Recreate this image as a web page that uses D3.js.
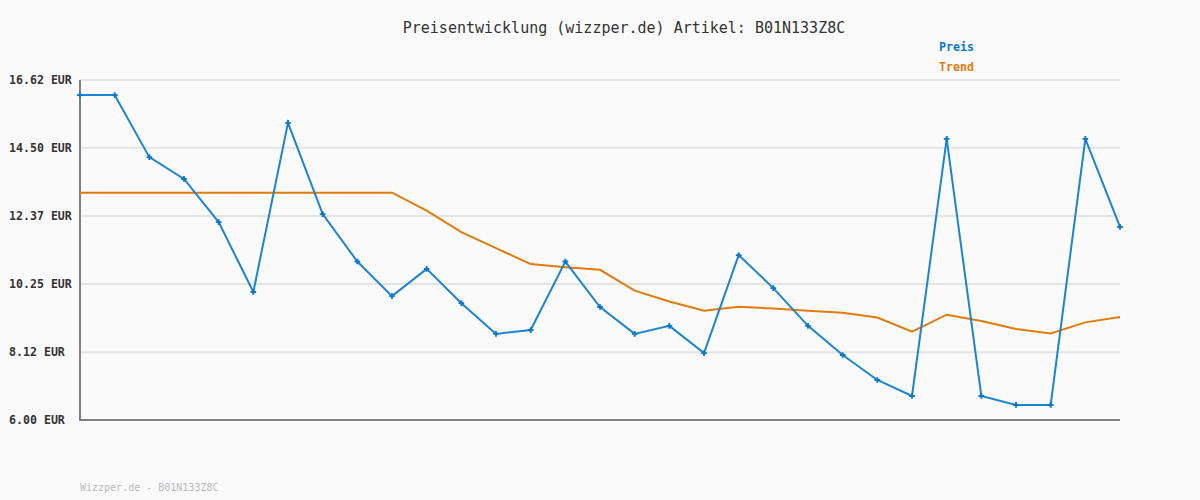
<!DOCTYPE html>
<html>
<head>
<meta charset="utf-8">
<script src="https://cdn.jsdelivr.net/npm/d3@7"></script>
<style>
  body { margin: 0; background: #fafafa; }
  text { font-family: "DejaVu Sans Mono", monospace; }
</style>
</head>
<body>
<script>
var preis = [16.15, 16.15, 14.21, 13.53, 12.18, 10.00, 15.28, 12.43, 10.95, 9.87,
  10.72, 9.65, 8.69, 8.81, 10.95, 9.53, 8.69, 8.94, 8.09, 11.15,
  10.12, 8.94, 8.03, 7.25, 6.75, 14.78, 6.75, 6.47, 6.47, 14.78, 12.03];
var trend = [13.10, 13.10, 13.10, 13.10, 13.10, 13.10, 13.10, 13.10, 13.10, 13.10,
  12.54, 11.87, 11.37, 10.87, 10.77, 10.69, 10.04, 9.70, 9.41, 9.54,
  9.48, 9.41, 9.35, 9.20, 8.76, 9.29, 9.09, 8.84, 8.70, 9.05, 9.22];
var yTicks = [6.00, 8.12, 10.25, 12.37, 14.50, 16.62];

var blue = '#0a78c8', orange = '#e07b0c';

var svg = d3.select('body')
  .append('svg')
  .attr('width', 1200)
  .attr('height', 500)
  .style('background-color', '#fafafa');

var x = d3.scaleLinear().domain([0, preis.length - 1]).range([80, 1120]);
var y = d3.scaleLinear().domain([6, 16.62]).range([420, 80]);

svg.append('text')
  .attr('x', 624)
  .attr('y', 33)
  .attr('text-anchor', 'middle')
  .style('font-size', '15px')
  .style('fill', '#333')
  .text('Preisentwicklung (wizzper.de) Artikel: B01N133Z8C');

// grid
svg.append('g')
  .selectAll('line')
  .data(yTicks.slice(1))
  .enter()
  .append('line')
  .attr('x1', 80)
  .attr('x2', 1120)
  .attr('y1', d => y(d))
  .attr('y2', d => y(d))
  .style('stroke', '#e4e4e4')
  .style('stroke-width', 2);

svg.append('g')
  .selectAll('text')
  .data(yTicks)
  .enter()
  .append('text')
  .attr('x', 9)
  .attr('y', d => y(d))
  .attr('dy', '0.35em')
  .style('font-size', '11.6px')
  .style('font-weight', 'bold')
  .style('fill', '#333')
  .text(d => d.toFixed(2) + ' EUR');

// axes
svg.append('line')
  .attr('x1', 80).attr('x2', 80)
  .attr('y1', y(16.62)).attr('y2', y(6) + 1)
  .style('stroke', '#808080').style('stroke-width', 2);
svg.append('line')
  .attr('x1', 79).attr('x2', 1120)
  .attr('y1', y(6)).attr('y2', y(6))
  .style('stroke', '#808080').style('stroke-width', 2);

var line = d3.line()
  .x((d, i) => x(i))
  .y(d => y(d));

svg.append('path')
  .datum(trend)
  .attr('d', line)
  .style('fill', 'none')
  .style('stroke', orange)
  .style('stroke-width', 2);

svg.append('path')
  .datum(preis)
  .attr('d', line)
  .style('fill', 'none')
  .style('stroke', '#1c84d0')
  .style('stroke-width', 2);

svg.append('g')
  .selectAll('path')
  .data(preis)
  .enter()
  .append('path')
  .attr('transform', (d, i) => 'translate(' + x(i) + ',' + y(d) + ')')
  .attr('d', d3.symbol().type(d3.symbolCross).size(18))
  .style('fill', blue);

// legend
svg.append('text')
  .attr('x', 939).attr('y', 51)
  .style('font-size', '11.6px').style('font-weight', 'bold')
  .style('fill', blue)
  .text('Preis');
svg.append('text')
  .attr('x', 939).attr('y', 71)
  .style('font-size', '11.6px').style('font-weight', 'bold')
  .style('fill', orange)
  .text('Trend');

svg.append('text')
  .attr('x', 80).attr('y', 491)
  .style('font-size', '10px')
  .style('fill', '#bbb')
  .text('Wizzper.de - B01N133Z8C');
</script>
</body>
</html>
